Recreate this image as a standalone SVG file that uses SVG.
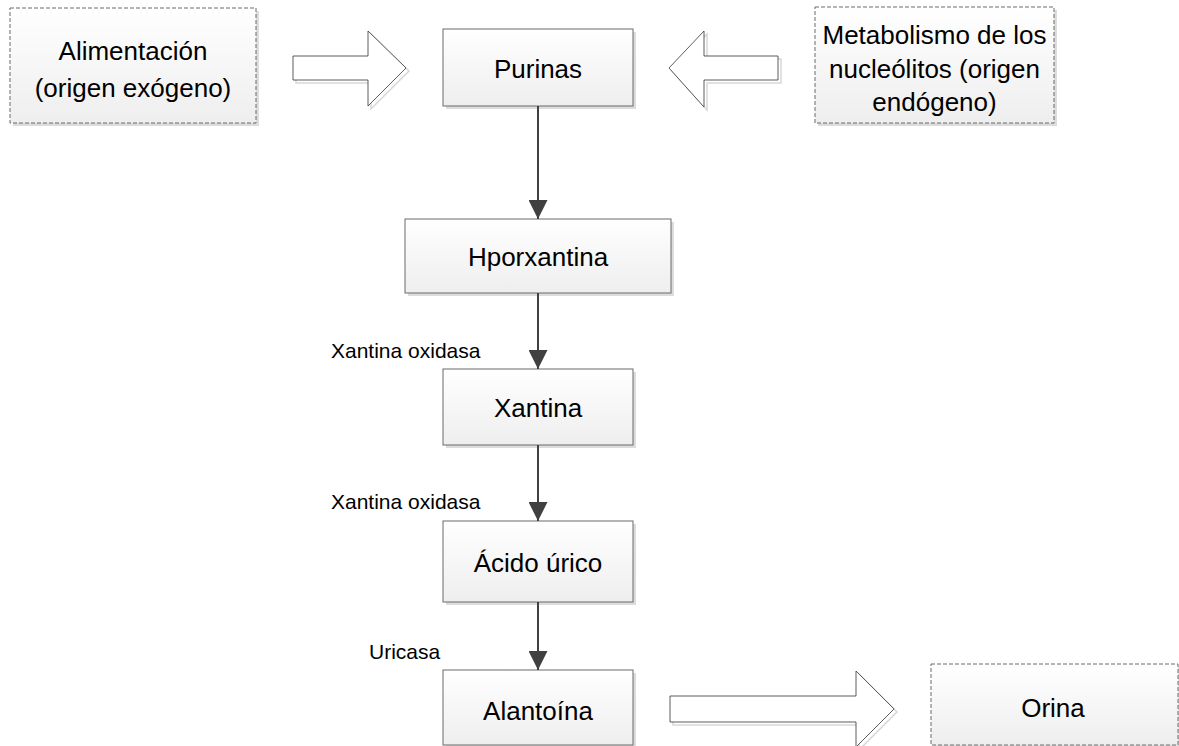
<svg xmlns="http://www.w3.org/2000/svg" width="1179" height="746" viewBox="0 0 1179 746">
<style>
.box{fill:url(#g);stroke:#6b6b6b;stroke-width:1}
.dbox{fill:url(#g);stroke:#6b6b6b;stroke-width:1;stroke-dasharray:4 2}
.sh{fill:#dcdcdc}
.t{font-family:"Liberation Sans",Arial,sans-serif;font-size:26px;fill:#000;text-anchor:middle}
.lb{font-family:"Liberation Sans",Arial,sans-serif;font-size:21px;fill:#000}
.con{stroke:#404040;stroke-width:2;fill:none}
.ba{fill:#fff;stroke:#333;stroke-width:0.8}
.bas{fill:none;stroke:#d8d8d8;stroke-width:1.5}
</style>
<defs>
<linearGradient id="g" x1="0" y1="0" x2="0" y2="1">
<stop offset="0" stop-color="#ffffff"/>
<stop offset="1" stop-color="#eeeeee"/>
</linearGradient>
<marker id="ah" viewBox="0 0 10 10" refX="10" refY="5" markerWidth="9.5" markerHeight="9.5" markerUnits="strokeWidth" orient="auto">
<path d="M0,0 L10,5 L0,10 z" fill="#404040"/>
</marker>
</defs>
<rect width="1179" height="746" fill="#fff"/>

<g id="alimentacion">
<rect class="sh" x="13" y="11" width="246" height="115"/>
<rect class="dbox" x="10" y="8" width="246" height="115"/>
<text class="t" x="133" y="60">Alimentación</text>
<text class="t" x="133" y="97">(origen exógeno)</text>
</g>

<g id="purinas">
<rect class="sh" x="446" y="32" width="190" height="77"/>
<rect class="box" x="443" y="29" width="190" height="77"/>
<text class="t" x="538" y="78">Purinas</text>
</g>

<g id="metabolismo">
<rect class="sh" x="818" y="10" width="239" height="116"/>
<rect class="dbox" x="815" y="7" width="239" height="116"/>
<text class="t" x="934.5" y="44">Metabolismo de los</text>
<text class="t" x="934.5" y="78">nucleólitos (origen</text>
<text class="t" x="934.5" y="111">endógeno)</text>
</g>

<g id="hporxantina">
<rect class="sh" x="408" y="222" width="266" height="74"/>
<rect class="box" x="405" y="219" width="266" height="74"/>
<text class="t" x="538" y="266">Hporxantina</text>
</g>

<g id="xantina">
<rect class="sh" x="446" y="372" width="190" height="76"/>
<rect class="box" x="443" y="369" width="190" height="76"/>
<text class="t" x="538" y="417">Xantina</text>
</g>

<g id="acido-urico">
<rect class="sh" x="446" y="524" width="190" height="81"/>
<rect class="box" x="443" y="521" width="190" height="81"/>
<text class="t" x="538" y="572">Ácido úrico</text>
</g>

<g id="alantoina">
<rect class="sh" x="446" y="673" width="190" height="75"/>
<rect class="box" x="443" y="670" width="190" height="75"/>
<text class="t" x="538" y="720">Alantoína</text>
</g>

<g id="orina">
<rect class="sh" x="934" y="667" width="247" height="81"/>
<rect class="dbox" x="931" y="664" width="247" height="81"/>
<text class="t" x="1053" y="717">Orina</text>
</g>

<g id="connectors">
<line class="con" x1="538" y1="106" x2="538" y2="219" marker-end="url(#ah)"/>
<line class="con" x1="538" y1="293" x2="538" y2="369" marker-end="url(#ah)"/>
<line class="con" x1="538" y1="445" x2="538" y2="521" marker-end="url(#ah)"/>
<line class="con" x1="538" y1="602" x2="538" y2="670" marker-end="url(#ah)"/>
<text class="lb" x="331" y="358">Xantina oxidasa</text>
<text class="lb" x="331" y="509">Xantina oxidasa</text>
<text class="lb" x="369" y="659">Uricasa</text>
<path class="bas" d="M296,59 L371,59 L371,34 L409,71 L371,109 L371,83 L296,83 Z"/>
<path class="ba" d="M293,56 L368,56 L368,31 L406,68 L368,106 L368,80 L293,80 Z"/>
<path class="bas" d="M672,71 L707,34 L707,59 L781,59 L781,83 L707,83 L707,110 Z"/>
<path class="ba" d="M669,68 L704,31 L704,56 L778,56 L778,80 L704,80 L704,107 Z"/>
<path class="bas" d="M673,699 L859,699 L859,674 L897,712 L859,750 L859,725 L673,725 Z"/>
<path class="ba" d="M670,696 L856,696 L856,671 L894,709 L856,747 L856,722 L670,722 Z"/>
</g>
</svg>
